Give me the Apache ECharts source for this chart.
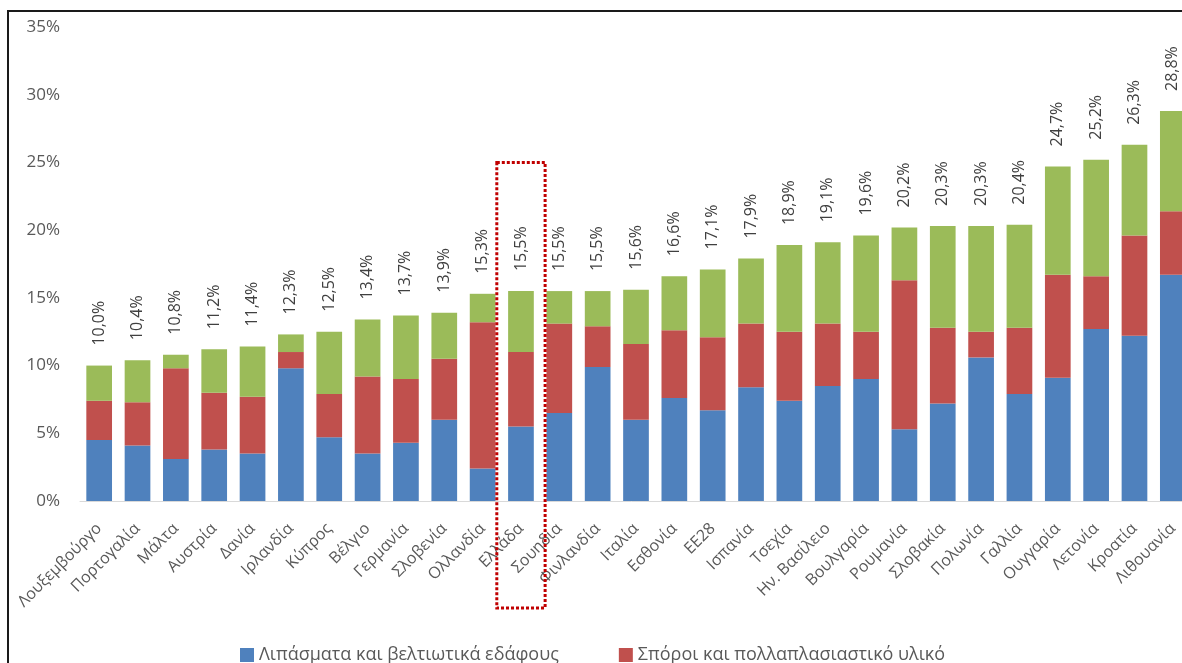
<!DOCTYPE html>
<html>
<head>
<meta charset="utf-8">
<script src="https://cdn.jsdelivr.net/npm/echarts@6/dist/echarts.min.js"></script>
<style>
  html, body { margin: 0; padding: 0; background: #fff; }
  #chart { width: 1182px; height: 663px; }
</style>
</head>
<body>
<div id="chart"></div>
<script>
// Countries, sorted by total share
const categories = [
  'Λουξεμβούργο', 'Πορτογαλία', 'Μάλτα', 'Αυστρία', 'Δανία', 'Ιρλανδία', 'Κύπρος',
  'Βέλγιο', 'Γερμανία', 'Σλοβενία', 'Ολλανδία', 'Ελλάδα', 'Σουηδία', 'Φινλανδία',
  'Ιταλία', 'Εσθονία', 'ΕΕ28', 'Ισπανία', 'Τσεχία', 'Ην. Βασίλειο', 'Βουλγαρία',
  'Ρουμανία', 'Σλοβακία', 'Πολωνία', 'Γαλλία', 'Ουγγαρία', 'Λετονία', 'Κροατία', 'Λιθουανία'
];

const seriesNames = [
  'Λιπάσματα και βελτιωτικά εδάφους',
  'Σπόροι και πολλαπλασιαστικό υλικό',
  'Φυτοπροστατευτικά προϊόντα'
];

// Shares (%) per input type
const fertilizers = [4.5, 4.1, 3.1, 3.8, 3.5, 9.8, 4.7, 3.5, 4.3, 6.0, 2.4, 5.5, 6.5, 9.9,
  6.0, 7.6, 6.7, 8.4, 7.4, 8.5, 9.0, 5.3, 7.2, 10.6, 7.9, 9.1, 12.7, 12.2, 16.7];
const seeds = [2.9, 3.2, 6.7, 4.2, 4.2, 1.2, 3.2, 5.7, 4.7, 4.5, 10.8, 5.5, 6.6, 3.0,
  5.6, 5.0, 5.4, 4.7, 5.1, 4.6, 3.5, 11.0, 5.6, 1.9, 4.9, 7.6, 3.9, 7.4, 4.7];
const protection = [2.6, 3.1, 1.0, 3.2, 3.7, 1.3, 4.6, 4.2, 4.7, 3.4, 2.1, 4.5, 2.4, 2.6,
  4.0, 4.0, 5.0, 4.8, 6.4, 6.0, 7.1, 3.9, 7.5, 7.8, 7.6, 8.0, 8.6, 6.7, 7.4];

const yTicks = { min: 0, max: 35, interval: 5 };

// Highlighted country and the top of its dotted frame (value axis units)
const highlight = 'Ελλάδα';
const highlightTop = 25;

const totals = categories.map((_, i) => fertilizers[i] + seeds[i] + protection[i]);
const fmtPct = v => v.toFixed(1).replace('.', ',') + '%';

const colors = ['#4f81bd', '#c0504d', '#9bbb59'];
const fontFamily = '"Open Sans", "Noto Sans", sans-serif';

const chart = echarts.init(document.getElementById('chart'), null, { renderer: 'canvas' });

function barSeries(name, data, idx, withTotals) {
  const s = {
    name: name,
    type: 'bar',
    stack: 'total',
    data: data,
    barCategoryGap: '33%',
    itemStyle: { color: colors[idx] },
    emphasis: { disabled: true }
  };
  if (withTotals) {
    s.label = {
      show: true,
      position: 'top',
      rotate: 90,
      align: 'left',
      verticalAlign: 'middle',
      distance: 20,
      color: '#404040',
      fontFamily: fontFamily,
      fontSize: 16,
      formatter: p => fmtPct(totals[p.dataIndex])
    };
  }
  return s;
}

chart.setOption({
  animation: false,
  backgroundColor: '#fff',
  textStyle: { fontFamily: fontFamily },
  grid: { left: 80, top: 27, width: 1112, height: 474, outerBoundsMode: 'none', containLabel: false },
  legend: {
    left: 235,
    top: 641,
    width: 790,
    itemWidth: 14,
    itemHeight: 14,
    itemGap: 60,
    icon: 'rect',
    textStyle: { color: '#595959', fontSize: 18, fontFamily: fontFamily },
    data: seriesNames
  },
  xAxis: {
    type: 'category',
    data: categories,
    axisLine: { lineStyle: { color: '#d9d9d9', width: 1 } },
    axisTick: { show: false },
    axisLabel: {
      interval: 0,
      rotate: 45,
      margin: 25,
      color: '#595959',
      fontSize: 16,
      fontFamily: fontFamily
    }
  },
  yAxis: {
    type: 'value',
    min: yTicks.min,
    max: yTicks.max,
    interval: yTicks.interval,
    axisLine: { show: false },
    axisTick: { show: false },
    splitLine: { show: false },
    axisLabel: {
      formatter: '{value}%',
      color: '#595959',
      fontSize: 17,
      margin: 20,
      fontFamily: fontFamily
    }
  },
  series: [
    barSeries(seriesNames[0], fertilizers, 0, false),
    barSeries(seriesNames[1], seeds, 1, false),
    barSeries(seriesNames[2], protection, 2, true)
  ]
});

// Outer frame and the dotted frame around the highlighted country
const cx = chart.convertToPixel({ xAxisIndex: 0 }, highlight);
const cx2 = chart.convertToPixel({ xAxisIndex: 0 }, categories[categories.indexOf(highlight) + 1]);
const band = cx2 - cx;
const yTop = chart.convertToPixel({ yAxisIndex: 0 }, highlightTop);
const yZero = chart.convertToPixel({ yAxisIndex: 0 }, 0);
const halfW = band * 0.63;

chart.setOption({
  graphic: [
    {
      type: 'rect',
      shape: { x: 8, y: 11, width: 1300, height: 800 },
      style: { fill: 'none', stroke: '#1a1a1a', lineWidth: 2 },
      silent: true,
      z: 100
    },
    {
      type: 'rect',
      shape: { x: cx - halfW, y: yTop, width: halfW * 2, height: (yZero - yTop) + 107 },
      style: { fill: 'none', stroke: '#c00000', lineWidth: 3, lineDash: [3, 2] },
      silent: true,
      z: 100
    }
  ]
});
</script>
</body>
</html>
